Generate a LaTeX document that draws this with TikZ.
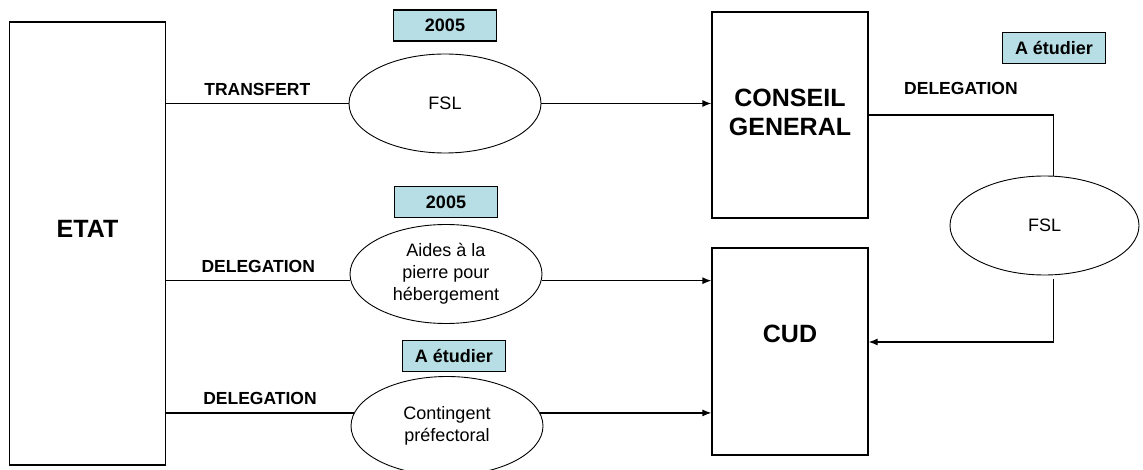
\documentclass[tikz,border=0pt]{standalone}
\usepackage{fontspec}
\setmainfont{Liberation Sans}
\usetikzlibrary{shapes.geometric, positioning, arrows.meta}
\definecolor{tagblue}{RGB}{183,222,228}

\begin{document}
\begin{tikzpicture}[
    x=1pt, y=-1pt,
    bigbox/.style={rectangle, draw, line width=1.2pt, minimum width=156pt},
    bigtext/.style={font=\bfseries\fontsize{25}{29}\selectfont, align=center},
    blob/.style={ellipse, draw, line width=0.9pt, inner sep=0pt, minimum width=192pt, minimum height=99pt, font=\fontsize{18}{22}\selectfont, align=center},
    tag/.style={rectangle, draw, line width=1.2pt, fill=tagblue, minimum width=103pt, minimum height=31pt, inner sep=0pt, font=\bfseries\fontsize{18}{21}\selectfont},
    lbl/.style={font=\bfseries\fontsize{17.5}{20}\selectfont},
    link/.style={line width=1.2pt},
    arrow/.style={-{Latex[length=9pt, width=7pt]}, line width=1.2pt}
]
    \useasboundingbox (0,0) rectangle (1143,470);

    % Etat and the three channels
    \node[bigbox, minimum height=443pt, label={[bigtext, yshift=15pt]center:ETAT}] (etat) at (87.5, 243.5) {};
    \node[blob] (fsl) at (445, 103.5) {FSL};
    \node[blob] (aides) at (446, 274) {Aides à la\\pierre pour\\hébergement};
    \node[blob] (pref) at (447, 426) {Contingent\\préfectoral};

    \node[tag, above=12pt of fsl] (tfsl) {2005};
    \node[tag, above=6pt of aides] (taides) {2005};
    \node[tag, above=4pt of pref, xshift=7pt] (tpref) {A étudier};

    % receiving bodies
    \node[bigbox, minimum height=206pt, label={[bigtext, yshift=3pt]center:CONSEIL\\GENERAL}] (cg) at (790, 115) {};
    \node[bigbox, minimum height=207pt, label={[bigtext, yshift=18pt]center:CUD}] (cud) at (790, 351.5) {};

    \node[blob, minimum width=189pt] (fsl2) at (1044.5, 225.5) {FSL};
    \node[tag] (tcg) at (1054, 48) {A étudier};

    % connectors
    \draw[link] (etat.east |- fsl.west) -- node[lbl, above=4pt] {TRANSFERT} (fsl.west);
    \draw[arrow] (fsl.east) -- (fsl.east -| cg.west);

    \draw[link] (etat.east |- aides.184) -- node[lbl, above=4pt] {DELEGATION} (aides.184);
    \draw[arrow] (aides.356) -- (aides.356 -| cud.west);

    \draw[link] (etat.east |- pref.172) -- node[lbl, above=4pt] {DELEGATION} (pref.172);
    \draw[arrow] (pref.8) -- (pref.8 -| cud.west);

    \draw[link] (cg.east) -| node[lbl, pos=0.25, above=16pt] {DELEGATION} (fsl2.80);
    \draw[arrow, shorten <=4pt] (fsl2.-80) |- ([yshift=9.5pt]cud.east);
\end{tikzpicture}
\end{document}
